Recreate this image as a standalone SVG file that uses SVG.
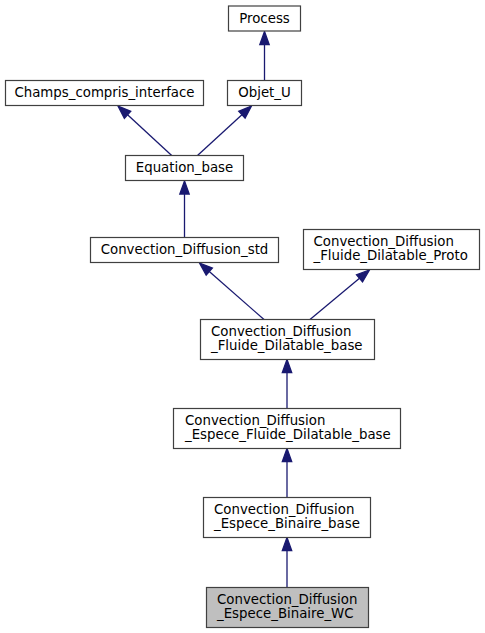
<svg xmlns="http://www.w3.org/2000/svg" width="485" height="633" viewBox="0 0 485 633">
<style>
.box{fill:#ffffff;stroke:#404040;stroke-width:1.2}
.cur{fill:#bfbfbf;stroke:#404040;stroke-width:1.2}
text{font-family:"DejaVu Sans","Liberation Sans",sans-serif;font-size:13.33px;fill:#000000}
.c{text-anchor:middle}
.edge line{stroke:#191970;stroke-width:1.3}
.edge polygon{fill:#191970;stroke:#191970;stroke-width:1.3}
</style>
<rect width="485" height="633" fill="#ffffff"/>
<g id="connectors" class="edge">
<line x1="264.5" y1="80.5" x2="264.5" y2="44.5"/>
<polygon points="264.5,31.5 259.8,44.5 269.2,44.5"/>
<line x1="171.7" y1="155.5" x2="127.56" y2="114.81"/>
<polygon points="118,106 130.75,111.35 124.37,118.27"/>
<line x1="197.5" y1="155.5" x2="241.92" y2="114.78"/>
<polygon points="251.5,106 245.1,118.24 238.74,111.32"/>
<line x1="184.5" y1="237.5" x2="184.5" y2="194"/>
<polygon points="184.5,181 179.8,194 189.2,194"/>
<line x1="264" y1="319.5" x2="209.28" y2="271.57"/>
<polygon points="199.5,263 212.38,268.03 206.18,275.11"/>
<line x1="310" y1="319.5" x2="359.51" y2="278.31"/>
<polygon points="369.5,270 362.52,281.92 356.5,274.7"/>
<line x1="287" y1="408.5" x2="287" y2="372.5"/>
<polygon points="287,359.5 282.3,372.5 291.7,372.5"/>
<line x1="287" y1="497.5" x2="287" y2="461.5"/>
<polygon points="287,448.5 282.3,461.5 291.7,461.5"/>
<line x1="287" y1="587.5" x2="287" y2="550.5"/>
<polygon points="287,537.5 282.3,550.5 291.7,550.5"/>
</g>
<g id="node_process">
<rect class="box" x="228.5" y="6" width="72" height="25"/>
<text class="c" x="264.5" y="22.5">Process</text>
</g>
<g id="node_champs">
<rect class="box" x="5.5" y="80.5" width="198" height="25"/>
<text class="c" x="104.5" y="97">Champs_compris_interface</text>
</g>
<g id="node_objet_u">
<rect class="box" x="227.5" y="80.5" width="74" height="25"/>
<text class="c" x="264.5" y="97">Objet_U</text>
</g>
<g id="node_equation_base">
<rect class="box" x="125.5" y="155.5" width="118" height="25"/>
<text class="c" x="184.5" y="172">Equation_base</text>
</g>
<g id="node_cd_std">
<rect class="box" x="90.5" y="237.5" width="188" height="25"/>
<text class="c" x="184.5" y="254">Convection_Diffusion_std</text>
</g>
<g id="node_cd_proto">
<rect class="box" x="303.5" y="229.5" width="176" height="40"/>
<text x="313.5" y="246">Convection_Diffusion</text>
<text x="313.5" y="260">_Fluide_Dilatable_Proto</text>
</g>
<g id="node_cd_fluide_base">
<rect class="box" x="200.5" y="319.5" width="174" height="40"/>
<text x="211" y="336">Convection_Diffusion</text>
<text x="211" y="350">_Fluide_Dilatable_base</text>
</g>
<g id="node_cd_espece_fluide">
<rect class="box" x="173.5" y="408.5" width="227" height="40"/>
<text x="185" y="425">Convection_Diffusion</text>
<text x="185" y="439">_Espece_Fluide_Dilatable_base</text>
</g>
<g id="node_cd_binaire_base">
<rect class="box" x="203.5" y="497.5" width="167" height="40"/>
<text x="214" y="514">Convection_Diffusion</text>
<text x="214" y="528">_Espece_Binaire_base</text>
</g>
<g id="node_cd_binaire_wc">
<rect class="cur" x="206.5" y="587.5" width="162" height="40"/>
<text x="217" y="604">Convection_Diffusion</text>
<text x="217" y="618">_Espece_Binaire_WC</text>
</g>
</svg>
